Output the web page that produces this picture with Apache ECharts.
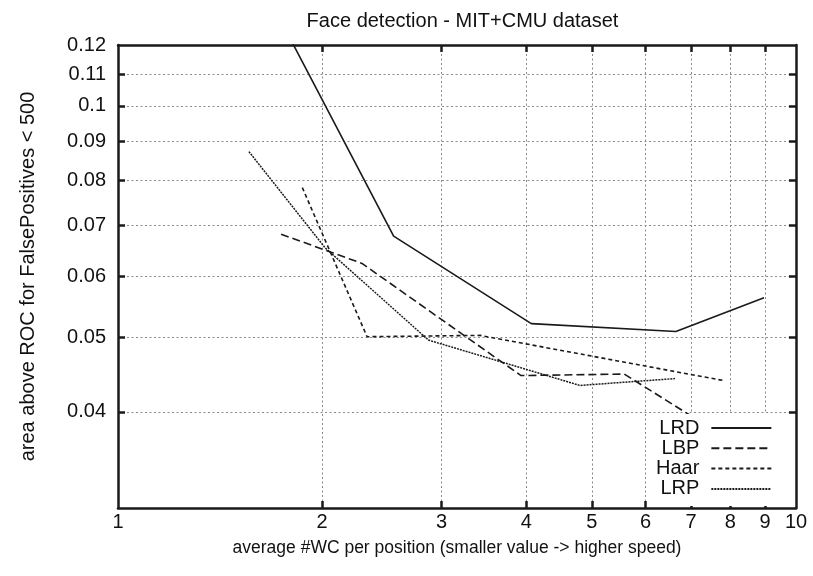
<!DOCTYPE html>
<html><head><meta charset="utf-8">
<script src="https://cdn.jsdelivr.net/npm/echarts@6/dist/echarts.min.js"></script>
<style>html,body{margin:0;padding:0;background:#fff}#c{width:813px;height:576px}</style>
</head><body><div id="c"></div>
<script>
const xTickLabels = [1, 2, 3, 4, 5, 6, 7, 8, 9, 10];
const xGridTicks = [2, 3, 4, 5, 6, 7, 8, 9];
const yTickLabels = [0.04, 0.05, 0.06, 0.07, 0.08, 0.09, 0.1, 0.11, 0.12];
const yGridTicks = [0.04, 0.05, 0.06, 0.07, 0.08, 0.09, 0.1, 0.11];
const seriesNames = ['LRD', 'LBP', 'Haar', 'LRP'];
const lrdX = [1.7, 2.55, 4.07, 6.65, 8.97];
const lrdY = [0.134, 0.0677, 0.0521, 0.0509, 0.0563];
const lbpX = [1.74, 2.29, 3.93, 5.58, 6.98];
const lbpY = [0.0681, 0.0624, 0.0446, 0.0448, 0.0396];
const haarX = [1.87, 2.33, 3.42, 7.86];
const haarY = [0.0783, 0.0501, 0.0503, 0.0439];
const lrpX = [1.56, 2.02, 2.87, 4.80, 6.63];
const lrpY = [0.0872, 0.0654, 0.0496, 0.0433, 0.0442];

const FONT = 'Liberation Sans, Arial, Helvetica, sans-serif';
const INK = '#111';
const zip = (xs, ys) => xs.map((x, i) => [x, ys[i]]);

const frameLine = { lineStyle: { color: '#1a1a1a', width: 2.5 } };
function xAxisDef(pos, main) {
  return {
    type: 'log', logBase: 10, min: 1, max: 10, position: pos,
    axisLine: { show: true, onZero: false, ...frameLine },
    axisTick: { show: true, inside: true, length: 7, customValues: xGridTicks, lineStyle: { color: '#1a1a1a', width: 2.5 } },
    minorTick: { show: false },
    axisLabel: main ? { show: true, customValues: xTickLabels, fontSize: 20, margin: 4, color: INK, fontFamily: FONT,
      formatter: v => String(Math.round(v)) } : { show: false },
    splitLine: main ? { show: true, lineStyle: { color: '#8a8a8a', width: 1, type: [2, 2.5] } } : { show: false },
    minorSplitLine: { show: false },
    name: main ? 'average #WC per position (smaller value -> higher speed)' : '',
    nameLocation: 'middle', nameGap: 31,
    nameTextStyle: { fontSize: 17.5, color: INK, fontFamily: FONT }
  };
}
function yAxisDef(pos, main) {
  return {
    type: 'log', logBase: 10, min: 0.03, max: 0.12, position: pos,
    axisLine: { show: true, onZero: false, ...frameLine },
    axisTick: { show: true, inside: true, length: 7, customValues: yGridTicks, lineStyle: { color: '#1a1a1a', width: 2.5 } },
    minorTick: { show: false },
    axisLabel: main ? { show: true, customValues: yTickLabels, fontSize: 20, margin: 12, color: INK, fontFamily: FONT,
      formatter: v => String(Math.round(v * 100) / 100) } : { show: false },
    splitLine: main ? { show: true, lineStyle: { color: '#8a8a8a', width: 1, type: [2, 2.5] } } : { show: false },
    minorSplitLine: { show: false },
    name: main ? 'area above ROC for FalsePositives < 500' : '',
    nameLocation: 'middle', nameGap: 80,
    nameTextStyle: { fontSize: 20, color: INK, fontFamily: FONT }
  };
}

const styles = [
  { type: 'solid', width: 1.6 },
  { type: [8, 4], width: 1.6 },
  { type: [4, 3], width: 1.6 },
  { type: [2, 1], width: 1.5 }
];
const dataSets = [zip(lrdX, lrdY), zip(lbpX, lbpY), zip(haarX, haarY), zip(lrpX, lrpY)];

const chart = echarts.init(document.getElementById('c'), null, { renderer: 'canvas' });
chart.setOption({
  backgroundColor: '#fff',
  animation: false,
  title: {
    text: 'Face detection - MIT+CMU dataset', left: 457.5, top: 6, textAlign: 'center',
    textStyle: { fontSize: 20, fontWeight: 'normal', color: INK, fontFamily: FONT }
  },
  grid: { left: 118, right: 17, top: 45, bottom: 68, containLabel: false },
  xAxis: [xAxisDef('bottom', true), xAxisDef('top', false)],
  yAxis: [yAxisDef('left', true), yAxisDef('right', false)],
  legend: {
    data: seriesNames, orient: 'vertical', left: 652, top: 414, align: 'right',
    itemWidth: 60, itemHeight: 14, itemGap: 0.3, padding: [4, 20, 7, 4],
    backgroundColor: '#fff', selectedMode: false,
    itemStyle: { opacity: 0, borderWidth: 0 },
    textStyle: { fontSize: 20, lineHeight: 20, color: INK, fontFamily: FONT, padding: [0, 7, 0, 0] }
  },
  series: seriesNames.map((n, i) => ({
    name: n, type: 'line', xAxisIndex: 0, yAxisIndex: 0,
    data: dataSets[i], symbol: 'none', showSymbol: false, silent: true,
    itemStyle: { color: '#1a1a1a' },
    lineStyle: { color: '#1a1a1a', width: styles[i].width, type: styles[i].type }
  }))
});
</script></body></html>
